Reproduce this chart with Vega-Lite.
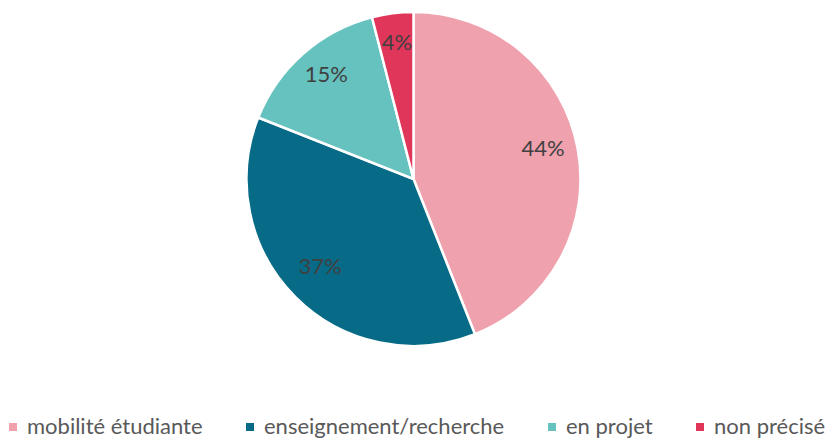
{
  "$schema": "https://vega.github.io/schema/vega-lite/v6.json",
  "width": 827,
  "height": 358,
  "autosize": {"type": "pad"},
  "padding": 0,
  "background": "white",
  "config": {"view": {"stroke": null}, "font": "Lato"},
  "data": {
    "values": [
      {"cat": "mobilité étudiante", "pct": 44, "label": "44%", "ord": 1},
      {"cat": "enseignement/recherche", "pct": 37, "label": "37%", "ord": 2},
      {"cat": "en projet", "pct": 15, "label": "15%", "ord": 3},
      {"cat": "non précisé", "pct": 4, "label": "4%", "ord": 4}
    ]
  },
  "encoding": {
    "theta": {"field": "pct", "type": "quantitative", "stack": true},
    "order": {"field": "ord", "type": "quantitative"},
    "color": {
      "field": "cat",
      "type": "nominal",
      "sort": ["mobilité étudiante", "enseignement/recherche", "en projet", "non précisé"],
      "scale": {
        "domain": ["mobilité étudiante", "enseignement/recherche", "en projet", "non précisé"],
        "range": ["#EFA1AE", "#076A87", "#66C2BF", "#E0365A"]
      },
      "legend": {
        "orient": "none",
        "legendX": 2,
        "legendY": 416,
        "direction": "horizontal",
        "title": null,
        "symbolType": "square",
        "symbolSize": 64,
        "symbolStrokeWidth": 0,
        "labelFontSize": 22,
        "labelColor": "#595959",
        "labelFont": "Lato",
        "labelLimit": 400,
        "columnPadding": 36,
        "labelOffset": 3
      }
    }
  },
  "layer": [
    {"mark": {"type": "arc", "outerRadius": 167, "stroke": "white", "strokeWidth": 2.5}},
    {
      "mark": {"type": "text", "radius": 132, "dy": -5, "fontSize": 22, "color": "#404040", "font": "Lato"},
      "encoding": {"text": {"field": "label"}, "color": {"value": "#404040"}}
    }
  ]
}
